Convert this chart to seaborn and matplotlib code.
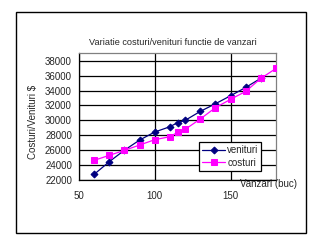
import matplotlib
matplotlib.use("Agg")
import matplotlib.pyplot as plt
import seaborn as sns
import pandas as pd
from matplotlib.patches import Rectangle

sns.set_style("white")
plt.rcParams['font.family'] = ['Liberation Sans', 'DejaVu Sans']

x_venituri = [60, 70, 80, 90, 100, 110, 115, 120, 130, 140, 150, 160, 170]
venituri = [22760, 24460, 26000, 27360, 28440, 29150, 29690, 30000, 31200, 32230, 33300, 34420, 35650]
x_costuri = [60, 70, 80, 90, 100, 110, 115, 120, 130, 140, 150, 160, 170, 180]
costuri = [24640, 25310, 25980, 26690, 27410, 27810, 28390, 28790, 30180, 31700, 32820, 33890, 35630, 36970]
yticks = [22000, 24000, 26000, 28000, 30000, 32000, 34000, 36000, 38000]
xticks = [50, 100, 150]

fig = plt.figure(figsize=(3.2, 2.45), dpi=100)
fig.patch.set_facecolor("white")
fig.patches.append(Rectangle((16 / 320, 1 - 233 / 245), 290 / 320, 221 / 245,
                             transform=fig.transFigure, fill=False,
                             edgecolor="black", linewidth=1.0))

ax = fig.add_axes([79 / 320, 1 - 180 / 245, 197 / 320, 126.7 / 245])

df_v = pd.DataFrame({"x": x_venituri, "y": venituri})
df_c = pd.DataFrame({"x": x_costuri, "y": costuri})
sns.lineplot(data=df_v, x="x", y="y", ax=ax, color="#000080", marker="D",
             markersize=3.5, markeredgecolor="#000080", linewidth=0.9,
             label="venituri", zorder=3)
sns.lineplot(data=df_c, x="x", y="y", ax=ax, color="#FF00FF", marker="s",
             markersize=4, markeredgecolor="#FF00FF", linewidth=0.9,
             label="costuri", zorder=4)

ax.set_xlim(50, 180)
ax.set_ylim(22000, 39000)
ax.set_xticks(xticks)
ax.set_yticks(yticks)
ax.set_xticklabels([str(t) for t in xticks], fontsize=7)
ax.set_yticklabels([str(t) for t in yticks], fontsize=7)
ax.grid(True, color="black", linewidth=0.9)
ax.set_axisbelow(True)
for s in ["top", "right"]:
    ax.spines[s].set_color("#808080")
    ax.spines[s].set_linewidth(0.9)
for s in ["left", "bottom"]:
    ax.spines[s].set_color("black")
    ax.spines[s].set_linewidth(0.9)
ax.tick_params(axis="both", direction="out", length=3, width=0.8, color="black",
               pad=2, labelsize=7)
ax.tick_params(axis="x", pad=5)
ax.set_xlabel("")
ax.set_ylabel("")

fig.text(172.7 / 320, 1 - 42.3 / 245, "Variatie costuri/venituri functie de vanzari",
         ha="center", va="center", fontsize=6.6)
fig.text(268 / 320, 1 - 184 / 245, "Vanzari (buc)", ha="center", va="center", fontsize=7)
fig.text(33 / 320, 1 - 122 / 245, "Costuri/Venituri $", ha="center", va="center",
         fontsize=7, rotation=90)

leg = ax.legend(loc="upper left", bbox_to_anchor=(199 / 320, 1 - 142 / 245),
                bbox_transform=fig.transFigure, fontsize=7, frameon=True,
                fancybox=False, edgecolor="black", framealpha=1,
                borderpad=0.3, labelspacing=0.3, handlelength=2.4,
                handletextpad=0.2, borderaxespad=0)
leg.get_frame().set_linewidth(0.9)

fig.savefig("out.png", dpi=100, facecolor="white")
